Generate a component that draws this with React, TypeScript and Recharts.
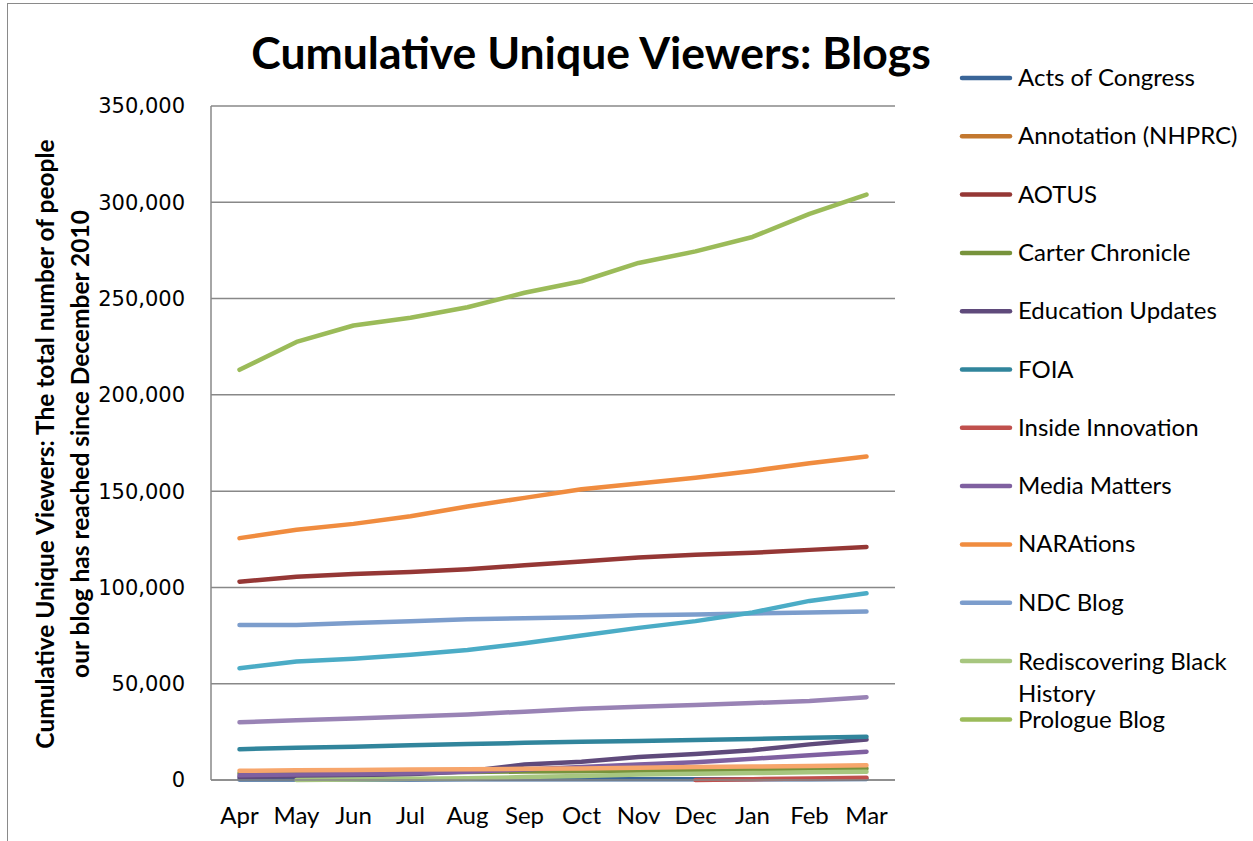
import React from "react";
import { CartesianGrid, Line, LineChart, XAxis, YAxis } from "recharts";

const months = ["Apr", "May", "Jun", "Jul", "Aug", "Sep", "Oct", "Nov", "Dec", "Jan", "Feb", "Mar"];
const yTicks = [0, 50000, 100000, 150000, 200000, 250000, 300000, 350000];

// cumulative unique viewers, Apr..Mar
const actsOfCongress = [300, 300, 300, 300, 350, 350, 400, 400, 400, 450, 450, 500];
const annotationNhprc = [null, null, null, null, null, null, null, null, null, null, null, null];
const aotus = [103000, 105500, 107000, 108000, 109500, 111500, 113500, 115500, 117000, 118000, 119500, 121000];
const carterChronicle = [3500, 3700, 3900, 4000, 4200, 4400, 4600, 4800, 5000, 5300, 5600, 6000];
const educationUpdates = [1500, 2000, 2500, 3000, 4500, 8000, 9500, 12000, 13500, 15500, 18500, 21000];
const foia = [16000, 16800, 17300, 18000, 18700, 19300, 19800, 20300, 20800, 21300, 22000, 22500];
const insideInnovation = [null, null, null, null, null, null, null, null, 0, 400, 800, 1200];
const mediaMatters = [2500, 2800, 3100, 3500, 4300, 5500, 6800, 8000, 9200, 11000, 12800, 14700];
const narations = [125600, 130000, 133000, 137000, 142000, 146500, 151000, 154000, 157000, 160500, 164500, 168000];
const ndcBlog = [80500, 80500, 81500, 82500, 83500, 84000, 84500, 85500, 86000, 86500, 87000, 87500];
const rediscovering = [null, 0, 300, 600, 900, 1500, 2100, 2800, 3200, 3600, 4000, 4300];
const prologueBlog = [213000, 227500, 236000, 240000, 245500, 253000, 259000, 268500, 274500, 282000, 294000, 304000];
// series drawn in the plot but cut off from the legend
const unlistedAqua = [58000, 61500, 63000, 65000, 67500, 71000, 75000, 79000, 82500, 87000, 93000, 97000];
const unlistedLilac = [30000, 31000, 32000, 33000, 34000, 35500, 37000, 38000, 39000, 40000, 41000, 43000];
const unlistedPeach = [4800, 5000, 5200, 5400, 5600, 5800, 6000, 6300, 6700, 7000, 7300, 7700];

type Series = { key: string; name: string; color: string; values: (number | null)[]; legend: boolean };

const series: Series[] = [
  { key: "acts", name: "Acts of Congress", color: "#3A6598", values: actsOfCongress, legend: true },
  { key: "annotation", name: "Annotation (NHPRC)", color: "#C3782F", values: annotationNhprc, legend: true },
  { key: "aotus", name: "AOTUS", color: "#953735", values: aotus, legend: true },
  { key: "carter", name: "Carter Chronicle", color: "#77933C", values: carterChronicle, legend: true },
  { key: "education", name: "Education Updates", color: "#5F4A7B", values: educationUpdates, legend: true },
  { key: "foia", name: "FOIA", color: "#31859C", values: foia, legend: true },
  { key: "inside", name: "Inside Innovation", color: "#C0504D", values: insideInnovation, legend: true },
  { key: "media", name: "Media Matters", color: "#7F60A0", values: mediaMatters, legend: true },
  { key: "narations", name: "NARAtions", color: "#F08C3F", values: narations, legend: true },
  { key: "ndc", name: "NDC Blog", color: "#7C9DCC", values: ndcBlog, legend: true },
  { key: "rediscovering", name: "Rediscovering Black History", color: "#A7C67F", values: rediscovering, legend: true },
  { key: "prologue", name: "Prologue Blog", color: "#9BBB59", values: prologueBlog, legend: true },
  { key: "aqua", name: "aqua", color: "#4BACC6", values: unlistedAqua, legend: false },
  { key: "lilac", name: "lilac", color: "#9983B5", values: unlistedLilac, legend: false },
  { key: "peach", name: "peach", color: "#F7A66C", values: unlistedPeach, legend: false },
];

const data = months.map((m, i) => {
  const row: Record<string, string | number | null> = { month: m };
  series.forEach((s) => (row[s.key] = s.values[i]));
  return row;
});

const FONT = "Lato, 'Open Sans', sans-serif";

function YLabel() {
  return (
    <g fontFamily={FONT} fontWeight={700} fontSize={24.5} fill="#000">
      <text transform="translate(54,444) rotate(-90)" textAnchor="middle">
        Cumulative Unique Viewers: The total number of people
      </text>
      <text transform="translate(89,444) rotate(-90)" textAnchor="middle">
        our blog has reached since December 2010
      </text>
    </g>
  );
}

function LegendBox() {
  const rows = series.filter((s) => s.legend);
  let y = 78;
  return (
    <svg width={313} height={760} style={{ position: "absolute", left: 940, top: 0 }}>
      {rows.map((s) => {
        const cy = y;
        const twoLines = s.name === "Rediscovering Black History";
        y += twoLines ? 58.5 : 58.3;
        return (
          <g key={s.key}>
            <line x1={22} x2={70} y1={cy} y2={cy} stroke={s.color} strokeWidth={4.5} strokeLinecap="round" />
            {twoLines ? (
              <text x={78} y={cy - 1.5} fontFamily={FONT} fontSize={24} dominantBaseline="central">
                <tspan x={78}>Rediscovering Black</tspan>
                <tspan x={78} dy={32}>History</tspan>
              </text>
            ) : (
              <text x={78} y={cy - 1.5} fontFamily={FONT} fontSize={24} dominantBaseline="central">
                {s.name}
              </text>
            )}
          </g>
        );
      })}
    </svg>
  );
}

export default function App() {
  return (
    <div style={{ position: "absolute", left: 0, top: 0, width: 1253, height: 841, overflow: "hidden", background: "#fff" }}>
      <div
        style={{
          position: "absolute",
          left: 7,
          top: 3,
          width: 1300,
          height: 900,
          borderLeft: "1.5px solid #8a8a8a",
          borderTop: "1.5px solid #8a8a8a",
        }}
      />
      <div
        style={{
          position: "absolute",
          left: 591,
          top: 51,
          transform: "translate(-50%, -50%)",
          fontFamily: FONT,
          fontWeight: 700,
          fontSize: 44.5,
          whiteSpace: "nowrap",
        }}
      >
        Cumulative Unique Viewers: Blogs
      </div>
      <div style={{ position: "absolute", left: 0, top: 0 }}>
        <LineChart width={1253} height={841} data={data} margin={{ top: 106, right: 358, bottom: 21, left: 0 }}>
          <CartesianGrid vertical={false} stroke="#888" strokeWidth={1.5} />
          <XAxis
            dataKey="month"
            height={40}
            padding={{ left: 28.5, right: 28.5 }}
            tickLine={false}
            tickMargin={21}
            stroke="#888"
            strokeWidth={1.5}
            tick={{ fill: "#000", fontSize: 24, fontFamily: FONT }}
            interval={0}
          />
          <YAxis
            width={211}
            domain={[0, 350000]}
            ticks={yTicks}
            tickLine={false}
            tickMargin={20}
            stroke="#888"
            strokeWidth={1.5}
            tick={{ fill: "#000", fontSize: 21, fontFamily: "'DejaVu Sans', Verdana, sans-serif" }}
            tickFormatter={(v: number) => v.toLocaleString("en-US")}
            label={{ content: () => <YLabel /> }}
          />
          {series.map((s) => (
            <Line
              key={s.key}
              dataKey={s.key}
              name={s.name}
              type="linear"
              stroke={s.color}
              strokeWidth={4.5}
              strokeLinecap="round"
              strokeLinejoin="round"
              dot={false}
              activeDot={false}
              isAnimationActive={false}
            />
          ))}
        </LineChart>
      </div>
      <LegendBox />
    </div>
  );
}
